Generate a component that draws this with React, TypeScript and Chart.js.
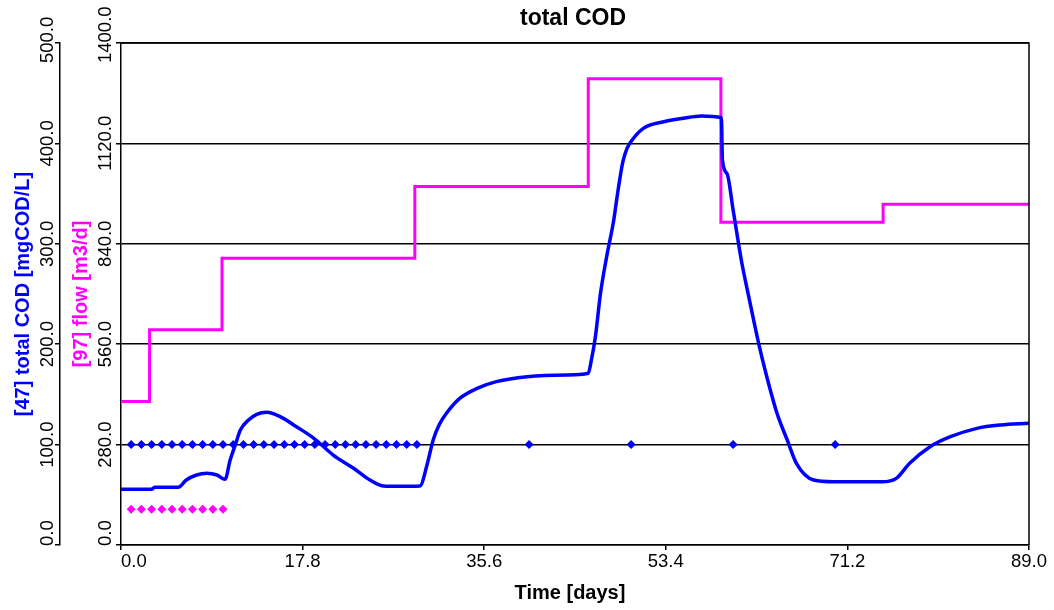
import React, { useEffect, useRef } from 'react';
import { Chart, registerables } from 'chart.js';

Chart.register(...registerables);

// ---- data ----
const chartTitle = 'total COD';
const xTitle = 'Time [days]';
const codTitle = '[47] total COD [mgCOD/L]';
const flowTitle = '[97] flow [m3/d]';

const xTicks = [0, 17.8, 35.6, 53.4, 71.2, 89.0];
const codTicks = [0, 100, 200, 300, 400, 500];
const flowTicks = [0, 280, 560, 840, 1120, 1400];

const codTimes = [
  0, 3.0, 3.3, 5.6, 6.4, 7.4, 8.4, 9.4, 10.2, 10.7, 11.2, 11.7, 12.5, 13.3, 14.3,
  15.6, 17.2, 18.9, 20.8, 22.8, 24.4, 25.7, 27.5, 29.3, 30.0, 30.6, 31.2, 31.9,
  33.2, 34.9, 36.8, 39.8, 43.7, 45.8, 46.1, 46.5, 47.0, 47.6, 48.3, 48.6, 48.9,
  49.2, 49.6, 50.1, 51.2, 53.2, 55.1, 56.9, 58.85, 58.95, 59.4, 60.0, 60.8, 61.6, 62.5,
  63.3, 64.3, 65.3, 66.2, 67.9, 69.8, 74.6, 76.0, 77.3, 79.3, 81.3, 83.9, 86.2, 89.0,
];
const codValues = [
  55.5, 55.5, 57.5, 57.5, 64.7, 69.7, 71.4, 69.7, 65.4, 84.7, 99.6, 114.5, 124.5, 130.2, 132.2,
  127.8, 117.8, 106.3, 89.6, 76.4, 64.7, 58.8, 58.5, 58.8, 80.0, 104.6, 120.0, 131.2,
  146.0, 156.0, 162.7, 167.6, 169.3, 171.0, 184.0, 207.5, 250.7, 287.0, 323.7, 345.0, 365.0,
  382.0, 395.0, 403.4, 415.0, 421.6, 425.0, 427.3, 425.6, 383.5, 370.0, 333.7, 283.9, 244.0, 200.9,
  167.6, 131.2, 104.6, 81.4, 64.7, 63.0, 63.0, 66.4, 81.4, 97.9, 107.9, 116.2, 119.5, 121.2,
];

const flowTimes = [0, 2.8, 9.9, 28.8, 45.8, 58.8, 74.7, 89.0];
const flowValues = [400, 600, 800, 1000, 1300, 900, 950, 950];

const codObsTimes = [
  1, 2, 3, 4, 5, 6, 7, 8, 9, 10, 11, 12, 13, 14, 15, 16, 17, 18, 19, 20,
  21, 22, 23, 24, 25, 26, 27, 28, 29, 40, 50, 60, 70,
];
const codObsValues = [
  100, 100, 100, 100, 100, 100, 100, 100, 100, 100, 100, 100, 100, 100, 100, 100, 100, 100, 100, 100,
  100, 100, 100, 100, 100, 100, 100, 100, 100, 100, 100, 100, 100,
];

const flowObsTimes = [1, 2, 3, 4, 5, 6, 7, 8, 9, 10];
const flowObsValues = [100, 100, 100, 100, 100, 100, 100, 100, 100, 100];

const BLUE = '#0000ff';
const MAGENTA = '#ff00ff';
const FONT = "'Liberation Sans', Arial, sans-serif";

const zip = (xs: number[], ys: number[]) => xs.map((x, i) => ({ x, y: ys[i] }));
const fmt = (v: number) => v.toFixed(1);

const textPlugin = {
  id: 'customText',
  afterDraw(chart: any) {
    const ctx = chart.ctx as CanvasRenderingContext2D;
    const { left, right, top, bottom } = chart.chartArea;
    const xs = chart.scales.x;
    const ys = chart.scales.cod;
    const fs = chart.scales.flow;
    ctx.save();
    // frame (top + right)
    ctx.strokeStyle = '#000';
    ctx.lineWidth = 1.5;
    ctx.beginPath();
    ctx.moveTo(left, top);
    ctx.lineTo(right, top);
    ctx.lineTo(right, bottom);
    ctx.stroke();

    ctx.fillStyle = '#000';
    // title
    ctx.font = `bold 23px ${FONT}`;
    ctx.textAlign = 'center';
    ctx.textBaseline = 'alphabetic';
    ctx.fillText(chartTitle, (left + right) / 2 - 2, 25);

    // x tick labels
    ctx.font = `18.5px ${FONT}`;
    xTicks.forEach((v, i) => {
      const px = xs.getPixelForValue(v);
      ctx.textAlign = i === 0 ? 'left' : 'center';
      ctx.fillText(fmt(v), px, 566.5);
    });
    // x title
    ctx.font = `bold 20px ${FONT}`;
    ctx.textAlign = 'center';
    ctx.fillText(xTitle, 570, 599);

    // y tick labels (rotated)
    const drawRot = (text: string, bx: number, cy: number, align: CanvasTextAlign = 'center') => {
      ctx.save();
      ctx.translate(bx, cy);
      ctx.rotate(-Math.PI / 2);
      ctx.textAlign = align;
      ctx.textBaseline = 'alphabetic';
      ctx.fillText(text, 0, 0);
      ctx.restore();
    };
    const drawAxisLabels = (ticks: number[], scale: any, bx: number) => {
      ticks.forEach((v, i) => {
        const py = scale.getPixelForValue(v);
        if (i === 0) drawRot(fmt(v), bx, py + 1, 'left');
        else if (i === ticks.length - 1) drawRot(fmt(v), bx, py + 20, 'left');
        else drawRot(fmt(v), bx, py);
      });
    };
    ctx.font = `18.5px ${FONT}`;
    ctx.fillStyle = '#000';
    drawAxisLabels(codTicks, ys, 53);
    drawAxisLabels(flowTicks, fs, 111);

    // axis titles
    const midY = (top + bottom) / 2;
    ctx.font = `bold 20px ${FONT}`;
    ctx.fillStyle = BLUE;
    drawRot(codTitle, 28.5, midY);
    ctx.fillStyle = MAGENTA;
    drawRot(flowTitle, 86.5, midY);
    ctx.restore();
  },
};

export default function App() {
  const ref = useRef<HTMLCanvasElement | null>(null);
  useEffect(() => {
    if (!ref.current) return;
    const chart = new Chart(ref.current, {
      type: 'line',
      data: {
        datasets: [
          {
            label: 'COD',
            data: zip(codTimes, codValues),
            yAxisID: 'cod',
            borderColor: BLUE,
            borderWidth: 3.5,
            pointRadius: 0,
            cubicInterpolationMode: 'monotone',
            fill: false,
            order: 0,
          },
          {
            label: 'COD obs',
            data: zip(codObsTimes, codObsValues),
            yAxisID: 'cod',
            showLine: false,
            pointStyle: 'rectRot',
            pointRadius: 4.5,
            pointBackgroundColor: BLUE,
            pointBorderColor: BLUE,
            pointBorderWidth: 0,
            order: 1,
          },
          {
            label: 'flow',
            data: zip(flowTimes, flowValues),
            yAxisID: 'flow',
            borderColor: MAGENTA,
            borderWidth: 3,
            pointRadius: 0,
            stepped: true,
            fill: false,
            order: 2,
          },
          {
            label: 'flow obs',
            data: zip(flowObsTimes, flowObsValues),
            yAxisID: 'flow',
            showLine: false,
            pointStyle: 'rectRot',
            pointRadius: 4.5,
            pointBackgroundColor: MAGENTA,
            pointBorderColor: MAGENTA,
            pointBorderWidth: 0,
            order: 3,
          },
        ],
      },
      options: {
        responsive: false,
        animation: false,
        events: [],
        layout: { padding: { top: 43, right: 25, left: 0, bottom: 0 } },
        plugins: { legend: { display: false }, tooltip: { enabled: false }, title: { display: false } },
        scales: {
          x: {
            type: 'linear',
            min: 0,
            max: 89,
            afterBuildTicks: (s: any) => { s.ticks = xTicks.map((v) => ({ value: v })); },
            afterFit: (s: any) => { s.height = 65; },
            ticks: { display: false },
            grid: { drawOnChartArea: false, drawTicks: true, tickLength: 5, color: '#000', lineWidth: 1.5 },
            border: { color: '#000', width: 1.5 },
          },
          cod: {
            type: 'linear',
            position: 'left',
            weight: 2,
            min: 0,
            max: 500,
            afterBuildTicks: (s: any) => { s.ticks = codTicks.map((v) => ({ value: v })); },
            afterFit: (s: any) => { s.width = 60; },
            ticks: { display: false },
            grid: { drawOnChartArea: false, drawTicks: true, tickLength: 5, color: '#000', lineWidth: 1.5 },
            border: { color: '#000', width: 1.5 },
          },
          flow: {
            type: 'linear',
            position: 'left',
            weight: 1,
            min: 0,
            max: 1400,
            afterBuildTicks: (s: any) => { s.ticks = flowTicks.map((v) => ({ value: v })); },
            afterFit: (s: any) => { s.width = 61; },
            ticks: { display: false },
            grid: { drawOnChartArea: true, drawTicks: true, tickLength: 5, color: '#000', lineWidth: 1.5 },
            border: { color: '#000', width: 1.5 },
          },
        },
      } as any,
      plugins: [textPlugin],
    });
    return () => chart.destroy();
  }, []);
  return (
    <div style={{ position: 'fixed', left: 0, top: 0, width: 1054, height: 610, background: '#fff' }}>
      <canvas ref={ref} width={1054} height={610} />
    </div>
  );
}
